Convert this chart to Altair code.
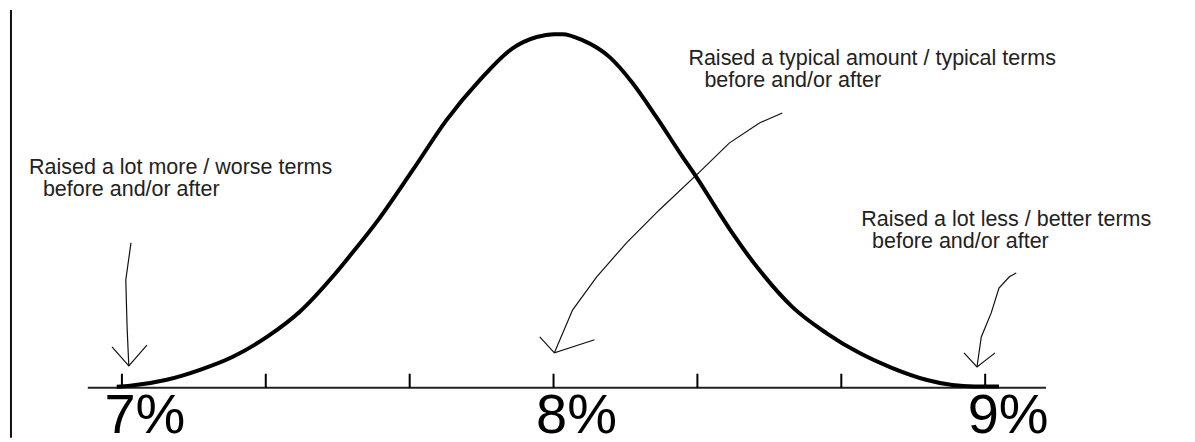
import altair as alt
import pandas as pd

# --- bell curve (x = rate in %, y = relative height, peak = 1)
curve_x = [6.988, 7.019, 7.104, 7.181, 7.257, 7.336, 7.412, 7.488, 7.528, 7.597,
           7.674, 7.752, 7.829, 7.905, 7.961, 8.002, 8.021, 8.067, 8.130, 8.183,
           8.238, 8.299, 8.331, 8.384, 8.414, 8.477, 8.553, 8.632, 8.708, 8.785,
           8.863, 8.924, 8.975, 9.032]
curve_y = [0.003, 0.006, 0.023, 0.051, 0.088, 0.144, 0.215, 0.314, 0.373, 0.480,
           0.616, 0.757, 0.870, 0.960, 0.992, 1.000, 1.000, 0.983, 0.935, 0.862,
           0.766, 0.653, 0.596, 0.494, 0.438, 0.333, 0.229, 0.155, 0.099, 0.056,
           0.023, 0.008, 0.004, 0.004]

# axis
axis_start, axis_end = 6.921, 9.141
tick_values = [7.0, 7.3333, 7.6667, 8.0, 8.3333, 8.6667, 9.0]
tick_height = 0.04
label_values = [7.0, 8.0, 9.0]
label_texts = ["7%", "8%", "9%"]

# left frame line
frame_x = 6.743
frame_top, frame_bottom = 1.068, -0.1412

# annotation text lines
note_x = [6.785, 6.817, 8.3125, 8.3495, 8.713, 8.738]
note_y = [0.6045, 0.543, 0.912, 0.851, 0.458, 0.396]
note_text = ["Raised a lot more / worse terms", "before and/or after",
             "Raised a typical amount / typical terms", "before and/or after",
             "Raised a lot less / better terms", "before and/or after"]

# hand-drawn arrows (shaft + head), in data units
arrow_id = (["a1s"] * 4 + ["a1h"] * 3 +
            ["a2s"] * 9 + ["a2h"] * 3 +
            ["a3s"] * 6 + ["a3h"] * 3)
arrow_x = [7.021, 7.009, 7.012, 7.016, 6.977, 7.016, 7.058,
           8.530, 8.477, 8.407, 8.338, 8.245, 8.169, 8.100, 8.044, 8.002,
           7.968, 8.002, 8.095,
           9.072, 9.056, 9.032, 9.014, 8.991, 8.981, 8.951, 8.981, 9.023]
arrow_y = [0.410, 0.305, 0.172, 0.062, 0.116, 0.062, 0.121,
           0.777, 0.749, 0.692, 0.610, 0.503, 0.410, 0.314, 0.220, 0.099,
           0.144, 0.099, 0.136,
           0.325, 0.314, 0.282, 0.212, 0.144, 0.059, 0.099, 0.059, 0.099]

XDOM = [6.7361, 9.4676]
YDOM = [-0.1412, 1.0734]
FONT = "Liberation Sans"

xs = alt.Scale(domain=XDOM, nice=False, zero=False)
ys = alt.Scale(domain=YDOM, nice=False, zero=False)

curve_df = pd.DataFrame({"x": curve_x, "y": curve_y})
tick_df = pd.DataFrame({"x": tick_values, "y": [0.0] * len(tick_values),
                        "y2": [tick_height] * len(tick_values)})
label_df = pd.DataFrame({"x": label_values, "t": label_texts, "y": [0.0] * 3})
base_df = pd.DataFrame({"x": [axis_start], "x2": [axis_end], "y": [0.0]})
frame_df = pd.DataFrame({"x": [frame_x], "y": [frame_bottom], "y2": [frame_top]})
note_df = pd.DataFrame({"x": note_x, "y": note_y, "t": note_text})
arrow_df = pd.DataFrame({"id": arrow_id, "x": arrow_x, "y": arrow_y,
                         "i": list(range(len(arrow_x)))})

X = lambda: alt.X("x:Q", scale=xs, axis=None)
Y = lambda: alt.Y("y:Q", scale=ys, axis=None)

curve = alt.Chart(curve_df).mark_line(
    color="black", strokeWidth=4, interpolate="monotone", clip=False
).encode(x=X(), y=Y())

baseline = alt.Chart(base_df).mark_rule(color="#222", strokeWidth=2).encode(
    x=X(), x2="x2:Q", y=Y())

ticks = alt.Chart(tick_df).mark_rule(color="black", strokeWidth=2).encode(
    x=X(), y=Y(), y2="y2:Q")

labels = alt.Chart(label_df).mark_text(
    font=FONT, fontSize=56, color="black", align="center",
    baseline="alphabetic", dx=23, dy=45
).encode(x=X(), y=Y(), text="t:N")

frame = alt.Chart(frame_df).mark_rule(color="#111", strokeWidth=2).encode(
    x=X(), y=Y(), y2="y2:Q")

notes = alt.Chart(note_df).mark_text(
    font=FONT, fontSize=21.5, color="#222", align="left", baseline="alphabetic"
).encode(x=X(), y=Y(), text="t:N")

arrows = alt.Chart(arrow_df).mark_line(
    color="#111", strokeWidth=1.2, interpolate="linear"
).encode(x=X(), y=Y(), detail="id:N", order="i:Q")

chart = alt.layer(frame, baseline, ticks, arrows, curve, labels, notes).properties(
    width=1180, height=430,
    autosize=alt.AutoSizeParams(type="none"),
    padding=0,
).configure_view(stroke=None)

chart.save("out.html", embed_options={"renderer": "svg", "actions": False})
